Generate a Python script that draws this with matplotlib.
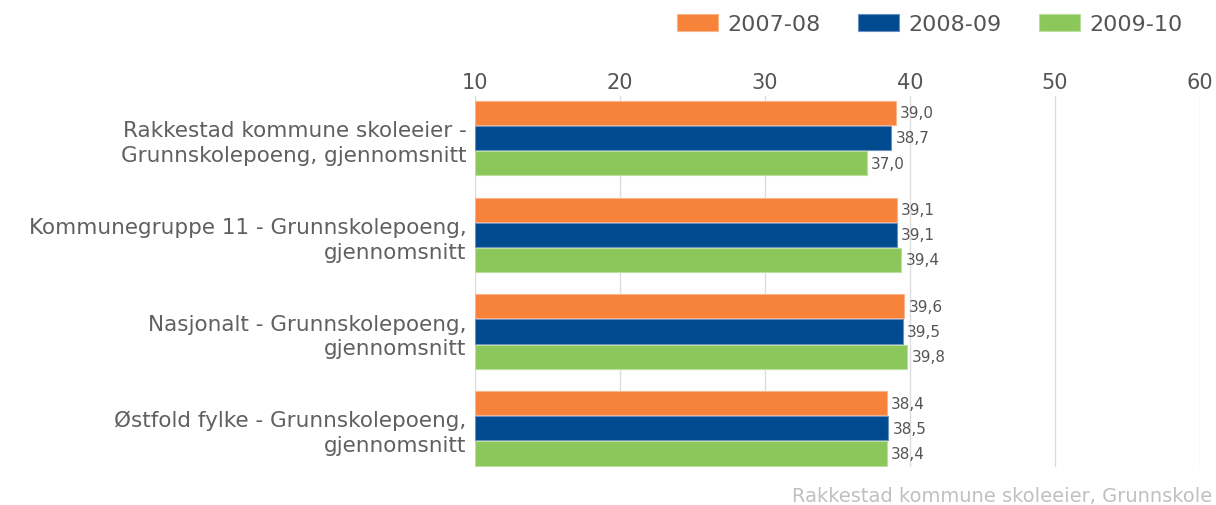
import numpy as np
import matplotlib
matplotlib.use('Agg')
import matplotlib.pyplot as plt

plt.rcParams['font.family'] = ['DejaVu Sans']

categories = ['Rakkestad kommune skoleeier -\nGrunnskolepoeng, gjennomsnitt',
              'Kommunegruppe 11 - Grunnskolepoeng,\ngjennomsnitt',
              'Nasjonalt - Grunnskolepoeng,\ngjennomsnitt',
              'Østfold fylke - Grunnskolepoeng,\ngjennomsnitt']
series = ['2007-08', '2008-09', '2009-10']
v_2007 = [39.0, 39.1, 39.6, 38.4]
v_2008 = [38.7, 39.1, 39.5, 38.5]
v_2009 = [37.0, 39.4, 39.8, 38.4]
colors = ['#F7823A', '#004A8F', '#8CC75B']
edges = ['#FBB58A', '#6A8FC0', '#B9E09A']

fig = plt.figure(figsize=(12.16, 5.06), dpi=100)
ax = fig.add_axes([475/1216, 1-468/506, 725/1216, 371/506])

y = np.arange(len(categories))
h = 0.25
step = 0.26
base = 10
for i, vals in enumerate([v_2007, v_2008, v_2009]):
    pos = y + (i - 1) * step
    ax.barh(pos, np.array(vals) - base, left=base, height=h, color=colors[i],
            edgecolor=edges[i], linewidth=0.8, label=series[i], zorder=3)
    for p, v in zip(pos, vals):
        ax.text(v + 0.3, p, f'{v:.1f}'.replace('.', ','), va='center', ha='left',
                fontsize=11, color='#555555')

ax.set_xlim(10, 60)
ax.set_ylim(3.40, -0.434)
ax.set_xticks([10, 20, 30, 40, 50, 60])
ax.xaxis.tick_top()
ax.tick_params(axis='x', length=0, labelsize=15, labelcolor='#555555', pad=3)
ax.set_yticks(y)
ax.set_yticklabels(categories, fontsize=15.5, color='#606060', linespacing=1.3)
ax.tick_params(axis='y', length=0, pad=6)
for lab in ax.get_yticklabels():
    lab.set_horizontalalignment('right')
ax.grid(axis='x', color='#DDDDDD', linewidth=1, zorder=0)
for s in ax.spines.values():
    s.set_visible(False)

fig.legend(loc='center right', bbox_to_anchor=(1183/1216, 1-25/506), ncol=3, frameon=False,
           fontsize=16, handlelength=1.85, handleheight=0.8, handletextpad=0.45,
           columnspacing=1.65, borderpad=0, borderaxespad=0, labelcolor='#555555')

fig.text(1212/1216, 1-497/506, 'Rakkestad kommune skoleeier, Grunnskole', ha='right', va='center',
         fontsize=14, color='#C0C0C0')

fig.savefig('out.png', dpi=100)
